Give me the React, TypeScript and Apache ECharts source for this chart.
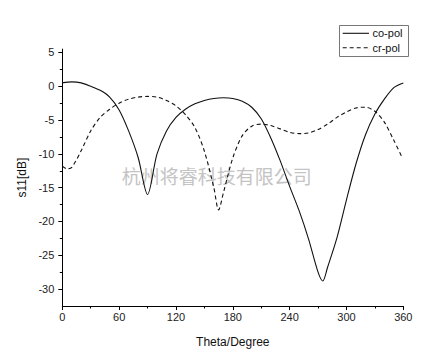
import React, { useEffect, useRef } from "react";
import * as echarts from "echarts";

const coPolTheta = [0, 10, 20, 30, 40, 50, 60, 70, 80, 90, 100, 110, 120, 130, 140, 150, 160, 170, 180, 190, 200, 210, 220, 230, 240, 250, 260, 270, 275, 280, 290, 300, 310, 320, 330, 340, 350, 360];
const coPolValues = [0.5, 0.65, 0.5, 0.0, -0.6, -1.6, -3.5, -6.6, -10.5, -16.0, -10.0, -6.6, -4.6, -3.4, -2.6, -2.1, -1.8, -1.7, -1.8, -2.2, -3.1, -4.8, -7.6, -11.0, -14.8, -18.4, -22.6, -27.5, -28.8, -26.8, -22.4, -16.8, -11.5, -7.2, -4.1, -1.9, -0.2, 0.5];

const crPolTheta = [0, 5, 10, 20, 30, 40, 50, 60, 70, 80, 90, 100, 110, 120, 130, 140, 150, 160, 165, 170, 180, 190, 200, 210, 220, 230, 240, 250, 260, 270, 280, 290, 300, 310, 320, 330, 340, 350, 358];
const crPolValues = [-11.8, -12.2, -12.0, -9.5, -6.6, -4.6, -3.4, -2.5, -1.9, -1.6, -1.5, -1.6, -2.1, -2.9, -4.2, -6.1, -9.6, -15.0, -18.3, -15.8, -10.6, -7.3, -5.9, -5.6, -5.8, -6.3, -6.8, -7.0, -6.9, -6.4, -5.6, -4.6, -3.8, -3.2, -3.1, -3.7, -5.3, -8.0, -10.3];

const xMajorTicks = [0, 60, 120, 180, 240, 300, 360];
const xMinorTicks = [30, 90, 150, 210, 270, 330];
const yMajorTicks = [-30, -25, -20, -15, -10, -5, 0, 5];
const yMinorTicks = [-27.5, -22.5, -17.5, -12.5, -7.5, -2.5, 2.5];

const seriesNames = ["co-pol", "cr-pol"];
const xAxisTitle = "Theta/Degree";
const yAxisTitle = "s11[dB]";
const watermarkText = "杭州将睿科技有限公司";

const FONT = "Liberation Sans, Arial, sans-serif";

export default function App() {
  const ref = useRef<HTMLDivElement>(null);

  useEffect(() => {
    if (!ref.current) return;
    const chart = echarts.init(ref.current, null, { renderer: "svg" });
    const axisLine = { show: true, onZero: false, lineStyle: { color: "#000", width: 1 } };
    const xMin = 0, xMax = 360, yMin = -32.5, yMax = 5.5;
    const legendX = 339, legendY = 25, legendW = 69, legendH = 31;
    chart.setOption({
      animation: false,
      backgroundColor: "#fff",
      grid: { left: 62.3, right: 23.7, top: 49.1, bottom: 49, containLabel: false },
      xAxis: [
        {
          type: "value",
          min: xMin,
          max: xMax,
          axisLine,
          splitLine: { show: false },
          axisTick: { show: true, length: 4, customValues: xMajorTicks, lineStyle: { color: "#000" } },
          axisLabel: { customValues: xMajorTicks, margin: 5, fontFamily: FONT, fontSize: 11, color: "#222" },
          name: xAxisTitle,
          nameLocation: "middle",
          nameGap: 30,
          nameTextStyle: { fontFamily: FONT, fontSize: 12, color: "#111" },
        },
        {
          type: "value",
          min: xMin,
          max: xMax,
          position: "bottom",
          axisLine: { show: false, onZero: false },
          splitLine: { show: false },
          axisTick: { show: true, length: 2.5, customValues: xMinorTicks, lineStyle: { color: "#000" } },
          axisLabel: { show: false },
        },
      ],
      yAxis: [
        {
          type: "value",
          min: yMin,
          max: yMax,
          axisLine,
          splitLine: { show: false },
          axisTick: { show: true, length: 4, customValues: yMajorTicks, lineStyle: { color: "#000" } },
          axisLabel: { customValues: yMajorTicks, margin: 8, fontFamily: FONT, fontSize: 11, color: "#222" },
          name: yAxisTitle,
          nameLocation: "middle",
          nameGap: 33,
          nameTextStyle: { fontFamily: FONT, fontSize: 12, color: "#111" },
        },
        {
          type: "value",
          min: yMin,
          max: yMax,
          position: "left",
          axisLine: { show: false, onZero: false },
          splitLine: { show: false },
          axisTick: { show: true, length: 2.5, customValues: yMinorTicks, lineStyle: { color: "#000" } },
          axisLabel: { show: false },
        },
      ],
      graphic: [
        {
          type: "text",
          x: 216.7,
          y: 175,
          z: 0,
          style: {
            text: watermarkText,
            font: '19px "Noto Sans CJK SC"',
            fill: "#c4c4c4",
            textAlign: "center",
            textVerticalAlign: "middle",
          },
        },
        {
          type: "group",
          z: 10,
          children: [
            {
              type: "rect",
              shape: { x: legendX + 0.5, y: legendY + 0.5, width: legendW, height: legendH },
              style: { fill: "#fff", stroke: "#777", lineWidth: 1 },
            },
            {
              type: "line",
              shape: { x1: legendX + 3.7, y1: legendY + 8.3, x2: legendX + 30, y2: legendY + 8.3 },
              style: { stroke: "#111", lineWidth: 1.1 },
            },
            {
              type: "line",
              shape: { x1: legendX + 3.7, y1: legendY + 22.7, x2: legendX + 30, y2: legendY + 22.7 },
              style: { stroke: "#111", lineWidth: 1.1, lineDash: [4, 3] },
            },
            {
              type: "text",
              x: legendX + 33.5,
              y: legendY + 8.3,
              style: { text: seriesNames[0], font: "11px " + FONT, fill: "#111", textVerticalAlign: "middle" },
            },
            {
              type: "text",
              x: legendX + 33.5,
              y: legendY + 22.7,
              style: { text: seriesNames[1], font: "11px " + FONT, fill: "#111", textVerticalAlign: "middle" },
            },
          ],
        },
      ],
      series: [
        {
          name: seriesNames[0],
          type: "line",
          data: coPolTheta.map((t, i) => [t, coPolValues[i]]),
          symbol: "none",
          smooth: 0.3,
          lineStyle: { color: "#111", width: 1.1, type: "solid" },
          z: 3,
        },
        {
          name: seriesNames[1],
          type: "line",
          data: crPolTheta.map((t, i) => [t, crPolValues[i]]),
          symbol: "none",
          smooth: 0.3,
          lineStyle: { color: "#111", width: 1.1, type: [4, 3] },
          z: 3,
        },
      ],
    });
    return () => chart.dispose();
  }, []);

  return <div ref={ref} style={{ width: 427, height: 355, position: "absolute", left: 0, top: 0 }} />;
}
